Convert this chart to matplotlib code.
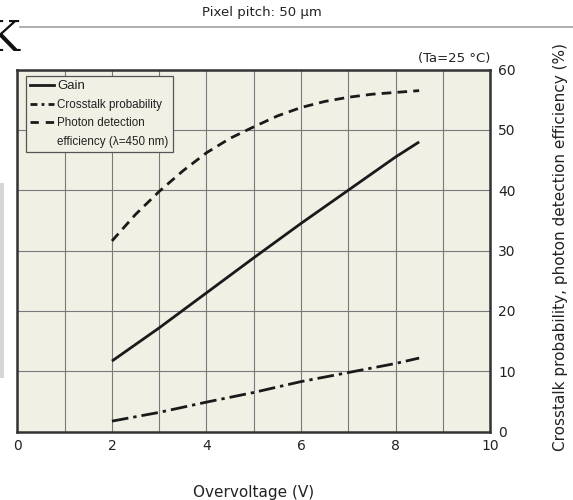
import matplotlib.pyplot as plt
from matplotlib.lines import Line2D

# overvoltage (V) and the three curves read at each point
overvoltage = [2, 3, 4, 5, 6, 7, 8, 8.5]
gain = [11.7, 17.2, 23.0, 28.8, 34.5, 40.0, 45.5, 48.0]
crosstalk = [1.75, 3.2, 4.9, 6.5, 8.3, 9.8, 11.3, 12.2]

# photon detection efficiency is read every half volt (curved)
pde_voltage = [2, 2.5, 3, 3.5, 4, 4.5, 5, 5.5, 6, 6.5, 7, 7.5, 8, 8.5]
pde = [31.6, 36.0, 39.8, 43.2, 46.2, 48.6, 50.5, 52.3, 53.7, 54.7,
       55.4, 55.9, 56.2, 56.5]

xticks = [0, 2, 4, 6, 8, 10]
yticks = [0, 10, 20, 30, 40, 50, 60]
legend_labels = ['Gain', 'Crosstalk probability', 'Photon detection',
                 'efficiency (\u03bb=450 nm)']

bg = '#f1f0e5'
ink = '#1a1a1a'
txt = '#222222'

fig = plt.figure(figsize=(5.73, 5.0), dpi=100)
ax = fig.add_axes([0.0304, 0.1366, 0.8248, 0.7244])
ax.set_facecolor(bg)

ax.plot(overvoltage, gain, color=ink, lw=2, solid_capstyle='butt')
ax.plot(overvoltage, crosstalk, color=ink, lw=2, dashes=(6, 1.8, 1.2, 1.8))
ax.plot(pde_voltage, pde, color=ink, lw=2, dashes=(3.5, 2.2))

ax.set_xlim(0, 10)
ax.set_ylim(0, 60)
ax.set_xticks(xticks)
ax.set_xticks(range(0, 11), minor=True)
ax.set_yticks(yticks)
ax.yaxis.tick_right()
ax.tick_params(which='both', length=0, labelsize=10, colors=txt)
ax.tick_params(axis='x', pad=5)
ax.tick_params(axis='y', pad=6)
ax.grid(which='both', color='#7a7a7a', lw=0.8)
ax.set_axisbelow(True)
for s in ax.spines.values():
    s.set_color('#333333')
    s.set_linewidth(1.8)

# legend: short handles, the last row is the wrapped part of the PDE label
handles = [
    Line2D([], [], color=ink, lw=2),
    Line2D([], [], color=ink, lw=2, dashes=(2.5, 1.5, 1, 1.5)),
    Line2D([], [], color=ink, lw=2, dashes=(3, 2.5)),
    Line2D([], [], color='none'),
]
leg = ax.legend(handles, legend_labels, loc='upper left',
                bbox_to_anchor=(0.019, 0.981),
                prop={'family': 'Liberation Sans', 'size': 8.4},
                handlelength=2.0, handletextpad=0.3, borderpad=0.35,
                labelspacing=0.55, borderaxespad=0, fancybox=False,
                framealpha=1)
leg.get_frame().set_facecolor(bg)
leg.get_frame().set_edgecolor('#555555')
leg.get_frame().set_linewidth(0.9)
for t in leg.get_texts():
    t.set_color(txt)
leg.get_texts()[0].set_fontsize(9.5)

ax.text(1.0, 1.012, '(Ta=25 \u00b0C)', transform=ax.transAxes,
        ha='right', va='bottom', fontsize=9.5, color=txt)

fig.text(0.4424, 0.016, 'Overvoltage (V)', ha='center', va='center',
         fontsize=11, color=txt)
fig.text(0.979, 0.506,
         'Crosstalk probability, photon detection efficiency (%)',
         rotation=90, ha='center', va='center', fontsize=11, color=txt)

# page header
fig.text(0.457, 0.975, 'Pixel pitch: 50 \u00b5m', ha='center', va='center',
         fontsize=9.5, color=txt)
fig.add_artist(Line2D([0.035, 1.0], [0.946, 0.946], color='#a0a0a0',
                      lw=1.2, transform=fig.transFigure))
fig.text(0.034, 0.922, 'K', ha='right', va='center', fontsize=30,
         family='DejaVu Serif', color='#111111')
fig.add_artist(plt.Rectangle((0, 0.244), 0.007, 0.39, color='#d6d6d6',
                             transform=fig.transFigure, lw=0))

fig.savefig('out.png', dpi=100)
